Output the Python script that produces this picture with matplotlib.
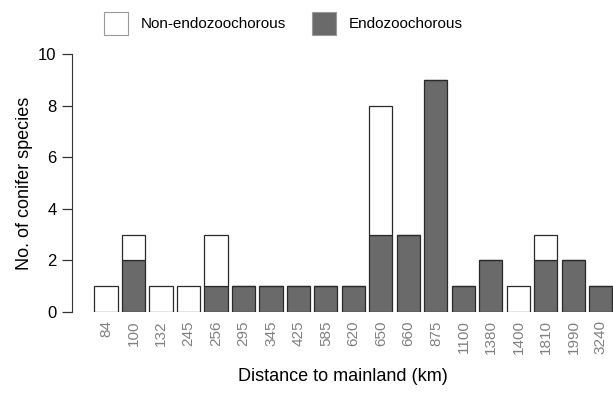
import matplotlib
matplotlib.use("Agg")
import matplotlib.pyplot as plt
from matplotlib.patches import Patch

plt.rcParams['font.family'] = ['Liberation Sans', 'DejaVu Sans']

distances = ["84", "100", "132", "245", "256", "295", "345", "425", "585", "620",
             "650", "660", "875", "1100", "1380", "1400", "1810", "1990", "3240"]
endo = [0, 2, 0, 0, 1, 1, 1, 1, 1, 1, 3, 3, 9, 1, 2, 0, 2, 2, 1]
non_endo = [1, 1, 1, 1, 2, 0, 0, 0, 0, 0, 5, 0, 0, 0, 0, 1, 1, 0, 0]

dark = "#6a6a6a"
edge = "#2a2a2a"

fig = plt.figure(figsize=(6.13, 3.95), dpi=100)
ax = fig.add_axes([72/613, (395-312)/395, 1 - 72/613, (312-54)/395])

x = list(range(len(distances)))
ax.bar(x, endo, width=0.84, color=dark, edgecolor=edge, linewidth=0.9)
ax.bar(x, non_endo, bottom=endo, width=0.84, color="white", edgecolor=edge, linewidth=0.9)

ax.set_xlim(-1.236, 18.44)
ax.set_ylim(0, 10)
for s in ["top", "right", "bottom"]:
    ax.spines[s].set_visible(False)
ax.spines["left"].set_bounds(0, 10)
ax.spines["left"].set_color("#333333")
ax.set_yticks([0, 2, 4, 6, 8, 10])
ax.tick_params(axis="y", length=7, width=0.9, color="#333333", labelsize=12, pad=4)
ax.set_xticks(x)
ax.set_xticklabels(distances, rotation=90, color="#808080", fontsize=11)
ax.tick_params(axis="x", length=0, pad=6)
ax.set_ylabel("No. of conifer species", fontsize=13, labelpad=4)
ax.set_xlabel("Distance to mainland (km)", fontsize=13, labelpad=10)

handles = [Patch(facecolor="white", edgecolor="#999999", linewidth=0.8, label="Non-endozoochorous"),
           Patch(facecolor=dark, edgecolor="#999999", linewidth=0.8, label="Endozoochorous")]
fig.legend(handles=handles, loc="center", bbox_to_anchor=(0.462, 0.941), ncol=2,
           frameon=False, fontsize=11, handlelength=1.6, handleheight=1.9,
           columnspacing=1.7, handletextpad=0.8)

fig.savefig("out.png", dpi=100)
